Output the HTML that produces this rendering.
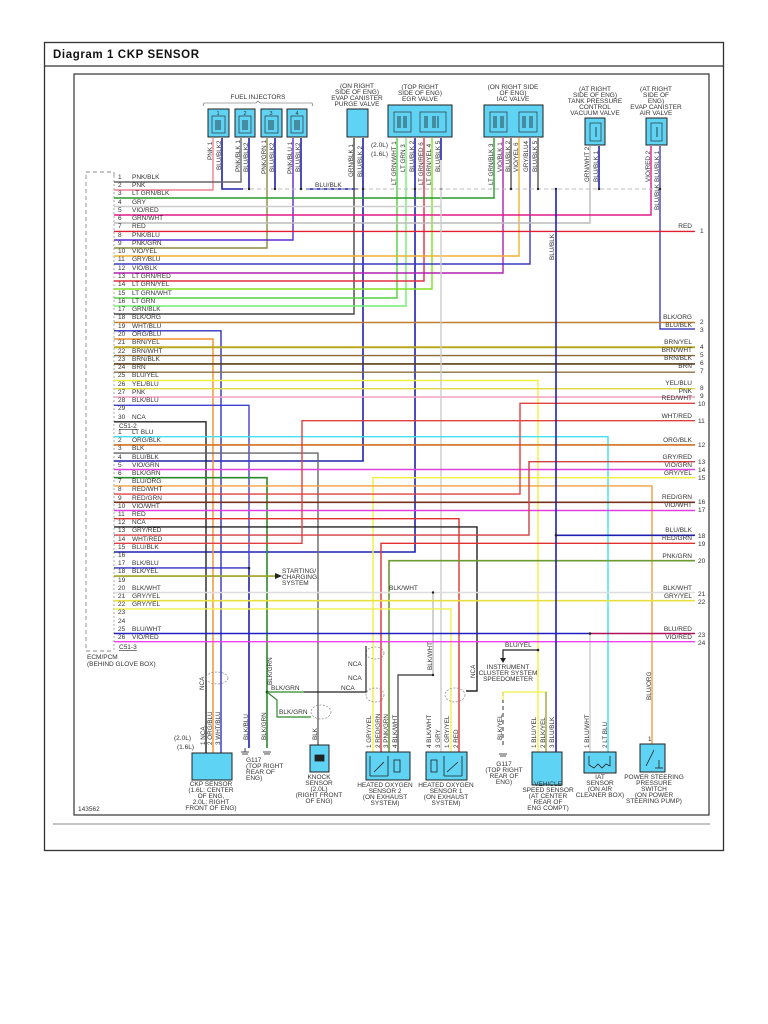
<!DOCTYPE html>
<html><head><meta charset="utf-8"><style>
html,body{margin:0;padding:0;background:#fff;}
svg{display:block;font-family:"Liberation Sans",sans-serif;}
.t{font-size:6.5px;fill:#333;}
.s{font-size:6.3px;fill:#333;}
.c{font-size:6.5px;fill:#333;text-anchor:middle;}
.r{font-size:6.5px;fill:#333;text-anchor:end;}
</style></head><body>
<svg width="768" height="1024" viewBox="0 0 768 1024" xmlns="http://www.w3.org/2000/svg">
<rect x="0" y="0" width="768" height="1024" fill="#fff"/>
<!-- outer frame -->
<rect x="44.5" y="42.5" width="679" height="808" fill="none" stroke="#333" stroke-width="1.3"/>
<line x1="44" y1="66" x2="724" y2="66" stroke="#333" stroke-width="1.2"/>
<text x="53" y="58" style="font-size:11.5px;font-weight:bold;fill:#111;letter-spacing:0.6px">Diagram 1 CKP SENSOR</text>
<rect x="74" y="74" width="635" height="741" fill="none" stroke="#333" stroke-width="1.2"/>
<line x1="53" y1="824" x2="710" y2="824" stroke="#888" stroke-width="1"/>
<text x="78" y="811" class="t">143562</text>

<!-- ECM dashed box -->
<path d="M114 176 L114 172 L86 172 L86 651 L114 651" fill="none" stroke="#888" stroke-width="0.9" stroke-dasharray="4,3"/>
<line x1="114" y1="176" x2="114" y2="651" stroke="#888" stroke-width="0.7" stroke-dasharray="2,2"/>
<text x="87" y="659" class="t">ECM/PCM</text>
<text x="87" y="666" class="t">(BEHIND GLOVE BOX)</text>

<!-- top components -->
<text x="258" y="99" class="c">FUEL INJECTORS</text>
<path d="M203 106 L204 103 L256 103 L258 101 L260 103 L312 103 L313 106" fill="none" stroke="#555" stroke-width="0.6"/>
<g stroke="#222" stroke-width="1" fill="#5fd3f3">
<rect x="208" y="109" width="21" height="28"/><rect x="235" y="109" width="20" height="28"/>
<rect x="261" y="109" width="21" height="28"/><rect x="287" y="109" width="20" height="28"/>
<rect x="347" y="109" width="21" height="28"/>
<rect x="388" y="105" width="64" height="32"/>
<rect x="484" y="105" width="59" height="32"/>
<rect x="585" y="118" width="20" height="27"/>
<rect x="646" y="118" width="21" height="27"/>
</g>
<g stroke="#333" stroke-width="0.7" fill="none">
<rect x="212" y="116" width="13" height="17"/><rect x="239" y="116" width="12" height="17"/>
<rect x="265" y="116" width="13" height="17"/><rect x="291" y="116" width="12" height="17"/>
<rect x="394" y="112" width="17" height="20"/><rect x="420" y="112" width="26" height="20"/>
<rect x="490" y="112" width="17" height="20"/><rect x="519" y="112" width="18" height="20"/>
<rect x="590" y="123" width="11" height="18"/><rect x="651" y="123" width="11" height="18"/>
</g>
<g stroke="#222" stroke-width="0.8">
<line x1="216" y1="120" x2="216" y2="130"/><line x1="218" y1="120" x2="218" y2="130"/><line x1="220" y1="120" x2="220" y2="130"/>
<line x1="243" y1="120" x2="243" y2="130"/><line x1="245" y1="120" x2="245" y2="130"/><line x1="247" y1="120" x2="247" y2="130"/>
<line x1="269" y1="120" x2="269" y2="130"/><line x1="271" y1="120" x2="271" y2="130"/><line x1="273" y1="120" x2="273" y2="130"/>
<line x1="295" y1="120" x2="295" y2="130"/><line x1="297" y1="120" x2="297" y2="130"/><line x1="299" y1="120" x2="299" y2="130"/>
<line x1="398" y1="116" x2="398" y2="128"/><line x1="400" y1="116" x2="400" y2="128"/><line x1="404" y1="116" x2="404" y2="128"/><line x1="406" y1="116" x2="406" y2="128"/>
<line x1="425" y1="116" x2="425" y2="128"/><line x1="427" y1="116" x2="427" y2="128"/><line x1="433" y1="116" x2="433" y2="128"/><line x1="435" y1="116" x2="435" y2="128"/><line x1="438" y1="116" x2="438" y2="128"/>
<line x1="494" y1="116" x2="494" y2="128"/><line x1="496" y1="116" x2="496" y2="128"/><line x1="501" y1="116" x2="501" y2="128"/><line x1="503" y1="116" x2="503" y2="128"/>
<line x1="523" y1="116" x2="523" y2="128"/><line x1="525" y1="116" x2="525" y2="128"/><line x1="530" y1="116" x2="530" y2="128"/><line x1="532" y1="116" x2="532" y2="128"/>
<line x1="596" y1="127" x2="596" y2="137"/><line x1="657" y1="127" x2="657" y2="137"/>
</g>
<text x="218" y="115" class="c" style="font-size:5.5px">1</text><text x="245" y="115" class="c" style="font-size:5.5px">2</text>
<text x="271" y="115" class="c" style="font-size:5.5px">3</text><text x="297" y="115" class="c" style="font-size:5.5px">4</text>

<g class="c">
<text x="357" y="88" class="c">(ON RIGHT</text><text x="357" y="94" class="c">SIDE OF ENG)</text><text x="357" y="100" class="c">EVAP CANISTER</text><text x="357" y="106" class="c">PURGE VALVE</text>
<text x="420" y="89" class="c">(TOP RIGHT</text><text x="420" y="95" class="c">SIDE OF ENG)</text><text x="420" y="101" class="c">EGR VALVE</text>
<text x="513" y="89" class="c">(ON RIGHT SIDE</text><text x="513" y="95" class="c">OF ENG)</text><text x="513" y="101" class="c">IAC VALVE</text>
<text x="595" y="91" class="c">(AT RIGHT</text><text x="595" y="97" class="c">SIDE OF ENG)</text><text x="595" y="103" class="c">TANK PRESSURE</text><text x="595" y="109" class="c">CONTROL</text><text x="595" y="115" class="c">VACUUM VALVE</text>
<text x="656" y="91" class="c">(AT RIGHT</text><text x="656" y="97" class="c">SIDE OF</text><text x="656" y="103" class="c">ENG)</text><text x="656" y="109" class="c">EVAP CANISTER</text><text x="656" y="115" class="c">AIR VALVE</text>
</g>
<text x="371" y="147" class="t">(2.0L)</text><text x="371" y="156" class="t">(1.6L)</text>

<!-- top vertical pin wires -->
<g fill="none" stroke-width="1.4">
<polyline points="213,138 213,190 114,190" stroke="#f08090"/>
<polyline points="222,138 222,189 243,189" stroke="#2020b0" stroke-width="1.6"/>
<polyline points="241,138 241,182 114,182" stroke="#666"/>
<line x1="249" y1="138" x2="249" y2="189" stroke="#2020b0" stroke-width="1.6"/>
<polyline points="267,138 267,248 114,248" stroke="#8a8a40"/>
<line x1="275" y1="138" x2="275" y2="189" stroke="#2020b0" stroke-width="1.6"/>
<polyline points="293,138 293,240 114,240" stroke="#5a2bd0"/>
<line x1="301" y1="138" x2="301" y2="189" stroke="#2020b0" stroke-width="1.6"/>
<line x1="306" y1="189" x2="358" y2="189" stroke="#2020b0" stroke-width="1.6"/>
<polyline points="354,138 354,314 114,314" stroke="#444"/>
<polyline points="363,138 363,461 114,461" stroke="#2020b0" stroke-width="1.6"/>
<!-- EGR -->
<polyline points="397,138 397,298 114,298" stroke="#50d040"/>
<polyline points="406,138 406,306 114,306" stroke="#70f070"/>
<polyline points="415,138 415,552 114,552" stroke="#2020b0" stroke-width="1.6"/>
<polyline points="424,138 424,281 114,281" stroke="#e03040"/>
<polyline points="432,138 432,289 114,289" stroke="#80e020"/>
<line x1="441" y1="138" x2="441" y2="160" stroke="#2020b0" stroke-width="1.6"/>
<!-- IAC -->
<polyline points="494,138 494,198 114,198" stroke="#2a9a2a"/>
<polyline points="503,138 503,273 114,273" stroke="#b020b0"/>
<line x1="511" y1="138" x2="511" y2="189" stroke="#555"/>
<polyline points="519,138 519,256 114,256" stroke="#f0b030"/>
<polyline points="530,138 530,264 114,264" stroke="#3a3ac0"/>
<line x1="538" y1="138" x2="538" y2="189" stroke="#555"/>
<!-- tank / air valve -->
<polyline points="590,146 590,223 114,223" stroke="#bbb"/>
<line x1="599" y1="146" x2="599" y2="189" stroke="#2020b0" stroke-width="1.6"/>
<polyline points="651,146 651,215 114,215" stroke="#e0198a"/>
<polyline points="660,146 660,329 695,329" stroke="#2020b0" stroke-width="1.2"/>
</g>
<line x1="243" y1="189" x2="660" y2="189" stroke="#bbb" stroke-width="1" stroke-dasharray="4,3"/>
<g fill="#222"><circle cx="249" cy="189" r="1.2"/><circle cx="275" cy="189" r="1.2"/><circle cx="301" cy="189" r="1.2"/><circle cx="363" cy="189" r="1.2"/><circle cx="415" cy="189" r="1.2"/><circle cx="441" cy="189" r="1.2"/><circle cx="511" cy="189" r="1.2"/><circle cx="538" cy="189" r="1.2"/><circle cx="556" cy="189" r="1.2"/><circle cx="599" cy="189" r="1.2"/><circle cx="660" cy="189" r="1.2"/></g>
<text x="315" y="187" class="t">BLU/BLK</text>

<!-- top pin labels (vertical) -->
<g class="s">
<text transform="translate(212,160) rotate(-90)">PNK 1</text>
<text transform="translate(221,170) rotate(-90)">BLU/BLK2</text>
<text transform="translate(240,172) rotate(-90)">PNK/BLK 1</text>
<text transform="translate(248,172) rotate(-90)">BLU/BLK2</text>
<text transform="translate(266,174) rotate(-90)">PNK/GRN 1</text>
<text transform="translate(274,172) rotate(-90)">BLU/BLK2</text>
<text transform="translate(292,174) rotate(-90)">PNK/BLU 1</text>
<text transform="translate(300,172) rotate(-90)">BLU/BLK2</text>
<text transform="translate(353,177) rotate(-90)">GRN/BLK 1</text>
<text transform="translate(362,177) rotate(-90)">BLU/BLK 2</text>
<text transform="translate(396,185) rotate(-90)">LT GRN/WHT 1</text>
<text transform="translate(405,172) rotate(-90)">LT GRN 3</text>
<text transform="translate(414,172) rotate(-90)">BLU/BLK 2</text>
<text transform="translate(423,185) rotate(-90)">LT GRN/RED 6</text>
<text transform="translate(431,185) rotate(-90)">LT GRN/YEL 4</text>
<text transform="translate(440,172) rotate(-90)">BLU/BLK 5</text>
<text transform="translate(493,185) rotate(-90)">LT GRN/BLK 3</text>
<text transform="translate(502,172) rotate(-90)">VIO/BLK 1</text>
<text transform="translate(510,172) rotate(-90)">BLU/BLK 2</text>
<text transform="translate(518,172) rotate(-90)">VIO/YEL 6</text>
<text transform="translate(528,172) rotate(-90)">GRY/BLU4</text>
<text transform="translate(537,172) rotate(-90)">BLU/BLK 5</text>
<text transform="translate(589,182) rotate(-90)">GRN/WHT 2</text>
<text transform="translate(598,182) rotate(-90)">BLU/BLK 1</text>
<text transform="translate(650,182) rotate(-90)">VIO/RED 2</text>
<text transform="translate(659,182) rotate(-90)">BLU/BLK 1</text>
<text transform="translate(659,210) rotate(-90)">BLU/BLK</text>
<text transform="translate(554,260) rotate(-90)">BLU/BLK</text>
</g>

<!-- C51-1 horizontal rows -->
<g fill="none" stroke-width="1.4">
<line x1="114" y1="231.4" x2="695" y2="231.4" stroke="#e02030"/>
<line x1="114" y1="322.5" x2="695" y2="322.5" stroke="#c08030"/>
<polyline points="114,330.8 221,330.8 221,753" stroke="#3030c0"/>
<polyline points="114,339 213,339 213,753" stroke="#f09030"/>
<line x1="114" y1="347.3" x2="695" y2="347.3" stroke="#b8a820" stroke-width="2"/>
<line x1="114" y1="355.6" x2="695" y2="355.6" stroke="#8a6a30"/>
<line x1="114" y1="363.9" x2="695" y2="363.9" stroke="#5a4018" stroke-width="1.6"/>
<line x1="114" y1="372.2" x2="695" y2="372.2" stroke="#8a7040"/>
<polyline points="114,380.5 538,380.5 538,752" stroke="#f0f040"/>
<line x1="114" y1="388.7" x2="695" y2="388.7" stroke="#e0d840"/>
<line x1="114" y1="397" x2="695" y2="397" stroke="#f0a0c0"/>
<polyline points="114,405.3 249,405.3 249,568" stroke="#4040d0"/>
<polyline points="114,421.8 206,421.8 206,753" stroke="#222"/>
<polyline points="441,206.5 114,206.5" stroke="#ccc"/>
<polyline points="441,160 441,206.5 441,752" stroke="#ccc"/>
<!-- C51-2 rows -->
<polyline points="114,436.7 608,436.7 608,752" stroke="#40e0f0"/>
<line x1="114" y1="444.9" x2="695" y2="444.9" stroke="#d07020" stroke-width="1.6"/>
<polyline points="114,453.1 318,453.1 318,745" stroke="#666"/>
<line x1="114" y1="469.5" x2="695" y2="469.5" stroke="#e040e0"/>
<polyline points="114,477.7 267,477.7 267,748" stroke="#2a8a2a" stroke-width="1.6"/>
<polyline points="695,477.7 373,477.7 373,752" stroke="#f0f040"/>
<polyline points="114,485.9 652,485.9 652,744" stroke="#f0a040"/>
<polyline points="114,494.1 520,494.1 520,403.3 695,403.3" stroke="#e04040"/>
<line x1="114" y1="502.3" x2="695" y2="502.3" stroke="#7a3020" stroke-width="1.6"/>
<line x1="114" y1="510.5" x2="695" y2="510.5" stroke="#e040e0"/>
<polyline points="114,518.7 459,518.7 459,752" stroke="#e03030"/>
<polyline points="114,526.9 477,526.9 477,691 466,691" stroke="#222"/>
<polyline points="114,535.1 529,535.1 529,461.7 695,461.7" stroke="#d04040"/>
<polyline points="114,543.3 302,543.3 302,420.7 695,420.7" stroke="#e04040"/>
<polyline points="695,543.3 381,543.3 381,752" stroke="#e03030"/>
<polyline points="695,560.7 389,560.7 389,752" stroke="#6a9a30" stroke-width="1.6"/>
<polyline points="114,567.9 249,567.9" stroke="#3030c0"/>
<polyline points="249,568 249,748" stroke="#2020b0" stroke-width="1.6"/>
<line x1="114" y1="576.1" x2="275" y2="576.1" stroke="#a0a020" stroke-width="1.6"/>
<line x1="114" y1="592.5" x2="695" y2="592.5" stroke="#ddd"/>
<polyline points="433,592.5 433,675 398,675 398,752" stroke="#555"/>
<line x1="433" y1="592.5" x2="433" y2="675" stroke="#ddd"/>
<line x1="114" y1="600.7" x2="695" y2="600.7" stroke="#e8e040" stroke-width="1.6"/>
<polyline points="114,608.9 451,608.9 451,752" stroke="#f0f050"/>
<polyline points="114,633.5 590,633.5" stroke="#2020c0"/>
<polyline points="590,633.5 695,633.5" stroke="#b01060"/>
<polyline points="590,633.5 590,752" stroke="#ccc"/>
<line x1="114" y1="641.7" x2="695" y2="641.7" stroke="#f040f0"/>
<polyline points="556,189 556,752" stroke="#2020b0" stroke-width="1.6"/>
<line x1="556" y1="535.3" x2="695" y2="535.3" stroke="#2020b0" stroke-width="1.6"/>
<line x1="114" y1="184" x2="114" y2="184"/>
</g>
<!-- splices -->
<g fill="#222"><circle cx="249" cy="568" r="1.3"/><circle cx="556" cy="535.3" r="1.3"/><circle cx="590" cy="633.5" r="1.3"/><circle cx="433" cy="592.5" r="1.2"/><circle cx="433" cy="675" r="1.2"/><circle cx="267" cy="692" r="1.3"/><circle cx="538" cy="650" r="1.3"/></g>
<polygon points="275,573 282,576 275,579" fill="#222"/>
<text x="282" y="573" class="t">STARTING/</text><text x="282" y="579" class="t">CHARGING</text><text x="282" y="585" class="t">SYSTEM</text>
<text x="389" y="590" class="t">BLK/WHT</text>

<!-- left row labels C51-1 -->
<g class="t">
<text x="118" y="179">1</text><text x="132" y="179">PNK/BLK</text>
<text x="118" y="187">2</text><text x="132" y="187">PNK</text>
<text x="118" y="195">3</text><text x="132" y="195">LT GRN/BLK</text>
<text x="118" y="204">4</text><text x="132" y="204">GRY</text>
<text x="118" y="212">5</text><text x="132" y="212">VIO/RED</text>
<text x="118" y="220">6</text><text x="132" y="220">GRN/WHT</text>
<text x="118" y="228">7</text><text x="132" y="228">RED</text>
<text x="118" y="237">8</text><text x="132" y="237">PNK/BLU</text>
<text x="118" y="245">9</text><text x="132" y="245">PNK/GRN</text>
<text x="118" y="253">10</text><text x="132" y="253">VIO/YEL</text>
<text x="118" y="261">11</text><text x="132" y="261">GRY/BLU</text>
<text x="118" y="270">12</text><text x="132" y="270">VIO/BLK</text>
<text x="118" y="278">13</text><text x="132" y="278">LT GRN/RED</text>
<text x="118" y="286">14</text><text x="132" y="286">LT GRN/YEL</text>
<text x="118" y="295">15</text><text x="132" y="295">LT GRN/WHT</text>
<text x="118" y="303">16</text><text x="132" y="303">LT GRN</text>
<text x="118" y="311">17</text><text x="132" y="311">GRN/BLK</text>
<text x="118" y="319">18</text><text x="132" y="319">BLK/ORG</text>
<text x="118" y="328">19</text><text x="132" y="328">WHT/BLU</text>
<text x="118" y="336">20</text><text x="132" y="336">ORG/BLU</text>
<text x="118" y="344">21</text><text x="132" y="344">BRN/YEL</text>
<text x="118" y="353">22</text><text x="132" y="353">BRN/WHT</text>
<text x="118" y="361">23</text><text x="132" y="361">BRN/BLK</text>
<text x="118" y="369">24</text><text x="132" y="369">BRN</text>
<text x="118" y="377">25</text><text x="132" y="377">BLU/YEL</text>
<text x="118" y="386">26</text><text x="132" y="386">YEL/BLU</text>
<text x="118" y="394">27</text><text x="132" y="394">PNK</text>
<text x="118" y="402">28</text><text x="132" y="402">BLK/BLU</text>
<text x="118" y="410">29</text>
<text x="118" y="419">30</text><text x="132" y="419">NCA</text>
<text x="119" y="428" style="text-decoration:underline">C51-2</text>
<text x="118" y="434">1</text><text x="132" y="434">LT BLU</text>
<text x="118" y="442">2</text><text x="132" y="442">ORG/BLK</text>
<text x="118" y="450">3</text><text x="132" y="450">BLK</text>
<text x="118" y="459">4</text><text x="132" y="459">BLU/BLK</text>
<text x="118" y="467">5</text><text x="132" y="467">VIO/GRN</text>
<text x="118" y="475">6</text><text x="132" y="475">BLK/GRN</text>
<text x="118" y="483">7</text><text x="132" y="483">BLU/ORG</text>
<text x="118" y="491">8</text><text x="132" y="491">RED/WHT</text>
<text x="118" y="500">9</text><text x="132" y="500">RED/GRN</text>
<text x="118" y="508">10</text><text x="132" y="508">VIO/WHT</text>
<text x="118" y="516">11</text><text x="132" y="516">RED</text>
<text x="118" y="524">12</text><text x="132" y="524">NCA</text>
<text x="118" y="532">13</text><text x="132" y="532">GRY/RED</text>
<text x="118" y="541">14</text><text x="132" y="541">WHT/RED</text>
<text x="118" y="549">15</text><text x="132" y="549">BLU/BLK</text>
<text x="118" y="557">16</text>
<text x="118" y="565">17</text><text x="132" y="565">BLK/BLU</text>
<text x="118" y="573">18</text><text x="132" y="573">BLK/YEL</text>
<text x="118" y="582">19</text>
<text x="118" y="590">20</text><text x="132" y="590">BLK/WHT</text>
<text x="118" y="598">21</text><text x="132" y="598">GRY/YEL</text>
<text x="118" y="606">22</text><text x="132" y="606">GRY/YEL</text>
<text x="118" y="614">23</text>
<text x="118" y="623">24</text>
<text x="118" y="631">25</text><text x="132" y="631">BLU/WHT</text>
<text x="118" y="639">26</text><text x="132" y="639">VIO/RED</text>
<text x="119" y="649" style="text-decoration:underline">C51-3</text>
</g>

<!-- right labels -->
<g class="r">
<text x="692" y="228">RED</text><text x="692" y="319">BLK/ORG</text><text x="692" y="327">BLU/BLK</text>
<text x="692" y="344">BRN/YEL</text><text x="692" y="352">BRN/WHT</text><text x="692" y="360">BRN/BLK</text><text x="692" y="368">BRN</text>
<text x="692" y="385">YEL/BLU</text><text x="692" y="393">PNK</text><text x="692" y="400">RED/WHT</text><text x="692" y="418">WHT/RED</text>
<text x="692" y="442">ORG/BLK</text><text x="692" y="459">GRY/RED</text><text x="692" y="467">VIO/GRN</text><text x="692" y="475">GRY/YEL</text>
<text x="692" y="499">RED/GRN</text><text x="692" y="507">VIO/WHT</text><text x="692" y="532">BLU/BLK</text><text x="692" y="540">RED/GRN</text>
<text x="692" y="558">PNK/GRN</text><text x="692" y="590">BLK/WHT</text><text x="692" y="598">GRY/YEL</text>
<text x="692" y="631">BLU/RED</text><text x="692" y="639">VIO/RED</text>
</g>
<g class="t">
<text x="700" y="233">1</text><text x="700" y="324">2</text><text x="700" y="332">3</text><text x="700" y="349">4</text><text x="700" y="357">5</text>
<text x="700" y="365">6</text><text x="700" y="373">7</text><text x="700" y="390">8</text><text x="700" y="398">9</text><text x="698" y="406">10</text>
<text x="698" y="423">11</text><text x="698" y="447">12</text><text x="698" y="464">13</text><text x="698" y="472">14</text><text x="698" y="480">15</text>
<text x="698" y="504">16</text><text x="698" y="512">17</text><text x="698" y="538">18</text><text x="698" y="546">19</text><text x="698" y="563">20</text>
<text x="698" y="596">21</text><text x="698" y="604">22</text><text x="698" y="637">23</text><text x="698" y="645">24</text>
</g>

<!-- bottom area -->
<g fill="none" stroke="#888" stroke-width="0.7" stroke-dasharray="2,1.5">
<ellipse cx="217" cy="678" rx="11" ry="6"/>
<ellipse cx="321" cy="712" rx="10" ry="7"/>
<ellipse cx="375" cy="653" rx="9" ry="6"/>
<ellipse cx="375" cy="695" rx="9" ry="7"/>
<ellipse cx="455" cy="695" rx="10" ry="7"/>
</g>
<g fill="none" stroke-width="1.2">
<polyline points="267,692 304,692" stroke="#2a8a2a"/>
<polyline points="304,692 366,692 366,646" stroke="#222"/>
<polyline points="267,692 277,700 277,717 311,717" stroke="#2a8a2a"/>
<polyline points="538,650 503,650 503,660" stroke="#222"/>
<polyline points="503,692 546,692 546,752" stroke="#f0f040"/>
<line x1="546" y1="692" x2="546" y2="752" stroke="#8a9a30"/>
<line x1="503" y1="692" x2="503" y2="745" stroke="#555" stroke-dasharray="4,3"/>
<line x1="503" y1="692" x2="503" y2="700" stroke="#f0f040"/>
</g>
<polygon points="500,658 506,658 503,663" fill="#222"/>
<g class="t">
<text x="271" y="690">BLK/GRN</text><text x="279" y="714">BLK/GRN</text><text x="341" y="690">NCA</text>
<text x="348" y="666">NCA</text><text x="348" y="680">NCA</text>
<text x="505" y="647">BLU/YEL</text>
<text x="174" y="740">(2.0L)</text><text x="177" y="749">(1.6L)</text>
</g>
<g class="c">
<text x="508" y="669">INSTRUMENT</text><text x="508" y="675">CLUSTER SYSTEM</text><text x="508" y="681">SPEEDOMETER</text>
</g>
<g class="s">
<text transform="translate(204,690) rotate(-90)">NCA</text>
<text transform="translate(272,685) rotate(-90)">BLK/GRN</text>
<text transform="translate(205,745) rotate(-90)">1 NCA</text>
<text transform="translate(212,745) rotate(-90)">2 ORG/BLU</text>
<text transform="translate(220,745) rotate(-90)">3 WHT/BLU</text>
<text transform="translate(248,740) rotate(-90)">BLK/BLU</text>
<text transform="translate(266,740) rotate(-90)">BLK/GRN</text>
<text transform="translate(317,740) rotate(-90)">BLK</text>
<text transform="translate(371,748) rotate(-90)">1 GRY/YEL</text>
<text transform="translate(380,748) rotate(-90)">2 RED/GRN</text>
<text transform="translate(388,748) rotate(-90)">3 PNK/GRN</text>
<text transform="translate(397,748) rotate(-90)">4 BLK/WHT</text>
<text transform="translate(431,748) rotate(-90)">4 BLK/WHT</text>
<text transform="translate(440,748) rotate(-90)">3 GRY</text>
<text transform="translate(449,748) rotate(-90)">1 GRY/YEL</text>
<text transform="translate(458,748) rotate(-90)">2 RED</text>
<text transform="translate(432,670) rotate(-90)">BLK/WHT</text>
<text transform="translate(475,678) rotate(-90)">NCA</text>
<text transform="translate(502,740) rotate(-90)">BLK/YEL</text>
<text transform="translate(536,748) rotate(-90)">1 BLU/YEL</text>
<text transform="translate(545,748) rotate(-90)">2 BLK/YEL</text>
<text transform="translate(554,748) rotate(-90)">3 BLU/BLK</text>
<text transform="translate(589,748) rotate(-90)">1 BLU/WHT</text>
<text transform="translate(607,748) rotate(-90)">2 LT BLU</text>
<text transform="translate(651,700) rotate(-90)">BLU/ORG</text>
<text x="648" y="741">1</text>
</g>
<!-- grounds -->
<g stroke="#222" stroke-width="0.8">
<line x1="245" y1="748" x2="245" y2="752"/><line x1="241" y1="752" x2="249" y2="752"/><line x1="242" y1="754" x2="248" y2="754"/>
<line x1="263" y1="752" x2="271" y2="752"/><line x1="264" y1="754" x2="270" y2="754"/>
<line x1="499" y1="754" x2="507" y2="754"/><line x1="500" y1="756" x2="506" y2="756"/>
</g>
<g class="t"><text x="246" y="762">G117</text><text x="246" y="768">(TOP RIGHT</text><text x="246" y="774">REAR OF</text><text x="246" y="780">ENG)</text></g>
<g class="c"><text x="504" y="766">G117</text><text x="504" y="772">(TOP RIGHT</text><text x="504" y="778">REAR OF</text><text x="504" y="784">ENG)</text></g>

<!-- bottom component boxes -->
<g stroke="#222" stroke-width="1" fill="#5fd3f3">
<rect x="192" y="753" width="40" height="27"/>
<rect x="310" y="745" width="19" height="27"/>
<rect x="366" y="752" width="44" height="28"/>
<rect x="426" y="752" width="41" height="28"/>
<rect x="532" y="752" width="30" height="33"/>
<rect x="584" y="752" width="32" height="21"/>
<rect x="640" y="744" width="25" height="28"/>
</g>
<g stroke="#222" stroke-width="0.8" fill="none">
<rect x="315" y="755" width="9" height="6" fill="#222"/>
<line x1="370" y1="756" x2="370" y2="776"/><line x1="388" y1="756" x2="388" y2="776"/><line x1="370" y1="776" x2="388" y2="776"/>
<line x1="374" y1="772" x2="384" y2="762"/>
<rect x="394" y="760" width="6" height="12"/>
<rect x="431" y="760" width="6" height="12"/>
<line x1="444" y1="756" x2="444" y2="776"/><line x1="462" y1="756" x2="462" y2="776"/><line x1="444" y1="776" x2="462" y2="776"/>
<line x1="447" y1="772" x2="458" y2="762"/>
<polyline points="589,756 589,765 594,768 598,764 602,768 606,764 610,766 610,756"/>
<line x1="646" y1="766" x2="654" y2="750"/><line x1="659" y1="760" x2="659" y2="768"/><line x1="655" y1="768" x2="663" y2="768"/>
</g>
<g class="c">
<text x="211" y="786">CKP SENSOR</text><text x="211" y="792">(1.6L: CENTER</text><text x="211" y="798">OF ENG,</text><text x="211" y="804">2.0L: RIGHT</text><text x="211" y="810">FRONT OF ENG)</text>
<text x="319" y="779">KNOCK</text><text x="319" y="785">SENSOR</text><text x="319" y="791">(2.0L)</text><text x="319" y="797">(RIGHT FRONT</text><text x="319" y="803">OF ENG)</text>
<text x="385" y="787">HEATED OXYGEN</text><text x="385" y="793">SENSOR 2</text><text x="385" y="799">(ON EXHAUST</text><text x="385" y="805">SYSTEM)</text>
<text x="446" y="787">HEATED OXYGEN</text><text x="446" y="793">SENSOR 1</text><text x="446" y="799">(ON EXHAUST</text><text x="446" y="805">SYSTEM)</text>
<text x="548" y="786">VEHICLE</text><text x="548" y="792">SPEED SENSOR</text><text x="548" y="798">(AT CENTER</text><text x="548" y="804">REAR OF</text><text x="548" y="810">ENG COMPT)</text>
<text x="600" y="779">IAT</text><text x="600" y="785">SENSOR</text><text x="600" y="791">(ON AIR</text><text x="600" y="797">CLEANER BOX)</text>
<text x="654" y="779">POWER STEERING</text><text x="654" y="785">PRESSURE</text><text x="654" y="791">SWITCH</text><text x="654" y="797">(ON POWER</text><text x="654" y="803">STEERING PUMP)</text>
</g>
</svg>
</body></html>
